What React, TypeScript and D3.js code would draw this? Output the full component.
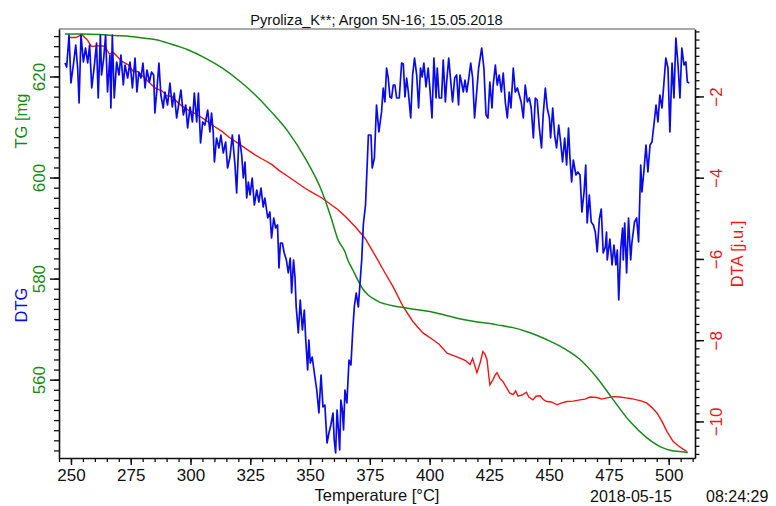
import * as d3 from 'd3';
import { useEffect, useRef } from 'react';

// TG curve (green), temperature in °C and mass in mg
const tgTemp = [247.5, 255, 262, 268.4, 275, 280, 285.1, 292, 298.9, 306, 313.2, 320, 327.0, 334, 340.8, 348, 355.0, 358.5, 361.7, 364.6, 365.8, 368, 370.0, 372, 374.2, 377, 379.2, 381.3, 385, 388.9, 394, 400.1, 407, 414.0, 420, 425.2, 430, 434.9, 442.0, 449.1, 455.8, 462.9, 470.0, 476.7, 483.8, 490.9, 497.6, 501, 504.7, 508.0];
const tgMass = [628.4, 628.4, 628.3, 628.1, 627.9, 627.6, 627.3, 626.4, 625.3, 623.7, 621.7, 619.3, 616.4, 612.9, 609.1, 603.8, 597.2, 592.5, 587.7, 585.3, 583.7, 581.6, 579.7, 578.0, 576.8, 575.9, 575.3, 575.0, 574.6, 574.3, 573.9, 573.5, 572.7, 571.9, 571.4, 571.1, 570.7, 570.3, 569.3, 567.9, 566.3, 564.0, 560.4, 556.1, 551.7, 548.5, 546.5, 546.0, 545.8, 545.6];

// DTA curve (red), j.u.
const dtaTemp = [248.7, 252, 254.6, 257, 258.5, 262, 264.2, 266, 268, 271.3, 274, 276, 278, 281, 285.1, 288, 290, 292.2, 295, 298.9, 302, 306, 310, 313.2, 316, 319.8, 323, 327, 330, 334.1, 337, 340.8, 344, 347.9, 351, 355, 358, 361.7, 365, 368.8, 373, 377.1, 381.3, 384.7, 388.9, 393, 397.2, 401.4, 404, 407.3, 410, 412.7, 415, 416.9, 418, 419, 419.8, 421.1, 422.3, 423.2, 424, 425.2, 426.5, 427.5, 428.2, 429.5, 430.7, 432, 433.5, 434.9, 436, 437, 439, 440.5, 441.5, 443.2, 444.5, 446.2, 447.5, 449.1, 451, 453.3, 455, 457.4, 460, 462.9, 465, 467.1, 470, 472, 474.2, 477, 479.6, 482, 484.5, 486.7, 488.8, 490.9, 493, 495.1, 497.2, 499.3, 501.8, 504, 506, 507.7];
const dtaVal = [-0.55, -0.55, -0.48, -0.62, -0.77, -0.75, -0.77, -0.95, -0.93, -1.14, -1.22, -1.38, -1.39, -1.55, -1.79, -1.86, -1.98, -2.0, -2.17, -2.33, -2.42, -2.57, -2.74, -2.86, -3.0, -3.15, -3.28, -3.44, -3.54, -3.68, -3.82, -3.97, -4.1, -4.26, -4.37, -4.5, -4.63, -4.79, -4.97, -5.2, -5.49, -5.9, -6.34, -6.68, -7.17, -7.54, -7.82, -7.99, -8.1, -8.32, -8.38, -8.44, -8.5, -8.6, -8.45, -8.65, -8.8, -8.56, -8.28, -8.35, -8.48, -9.1, -8.97, -8.85, -8.8, -8.95, -9.02, -9.15, -9.3, -9.34, -9.25, -9.38, -9.34, -9.28, -9.4, -9.47, -9.38, -9.37, -9.46, -9.51, -9.52, -9.59, -9.55, -9.51, -9.5, -9.47, -9.45, -9.4, -9.41, -9.45, -9.42, -9.39, -9.4, -9.42, -9.44, -9.47, -9.5, -9.55, -9.66, -9.79, -10.0, -10.25, -10.49, -10.6, -10.68, -10.74];

// DTG curve (blue), no axis of its own
const dtgTemp = [247.5, 248.2, 249.2, 250.0, 251.0, 252.0, 252.8, 253.4, 254.2, 255.2, 256.1, 257.0, 257.8, 258.7, 259.8, 260.7, 261.4, 262.3, 262.8, 263.7, 264.5, 265.3, 266.3, 266.7, 267.3, 268.1, 269.1, 270.1, 270.9, 271.9, 272.6, 273.7, 274.7, 275.7, 276.8, 277.6, 278.4, 279.3, 280.1, 281.0, 281.8, 282.8, 283.7, 284.6, 285.1, 286.0, 286.8, 287.6, 288.6, 289.3, 290.4, 291.4, 292.4, 293.2, 294.2, 295.2, 296.0, 297.0, 298.0, 298.8, 299.8, 300.8, 301.6, 302.6, 303.3, 304.2, 305.1, 306.0, 307.2, 308.1, 308.8, 309.5, 310.0, 310.9, 311.9, 312.7, 313.7, 314.7, 315.5, 316.5, 317.5, 318.6, 319.3, 320.3, 321.4, 322.1, 322.8, 323.5, 324.2, 324.9, 325.8, 326.7, 327.7, 328.6, 329.5, 330.4, 331.1, 332.3, 333.2, 333.9, 334.8, 335.6, 336.4, 337.0, 337.6, 338.4, 339.2, 340.1, 340.9, 341.7, 342.3, 343.1, 343.7, 344.2, 345.1, 345.9, 346.8, 347.6, 348.2, 349.0, 349.5, 350.1, 350.9, 351.8, 352.8, 353.7, 354.6, 355.4, 356.2, 357.1, 357.9, 358.7, 359.6, 360.1, 360.7, 361.3, 361.8, 362.4, 362.9, 363.5, 364.0, 364.6, 365.4, 366.3, 367.1, 367.8, 368.5, 369.3, 370.2, 370.9, 371.6, 372.3, 373.2, 374.4, 375.5, 376.0, 376.9, 377.8, 378.8, 379.9, 380.6, 381.3, 382.0, 382.7, 383.4, 384.1, 384.8, 385.5, 386.2, 387.3, 388.3, 389.0, 389.7, 390.4, 391.1, 392.1, 392.9, 393.7, 394.6, 395.4, 396.2, 396.9, 397.6, 398.5, 399.4, 400.1, 401.0, 401.8, 402.7, 403.2, 404.0, 405.0, 405.7, 406.6, 407.1, 408.0, 408.8, 409.6, 410.5, 411.3, 412.1, 412.7, 413.4, 414.1, 414.8, 415.5, 416.3, 417.2, 418.0, 418.8, 419.7, 420.5, 421.8, 422.7, 423.6, 424.4, 425.2, 426.1, 426.6, 427.5, 428.3, 429.1, 430.0, 430.8, 431.7, 432.5, 433.3, 434.0, 435.0, 435.8, 436.7, 437.5, 438.3, 439.2, 440.0, 440.9, 441.7, 442.5, 443.4, 444.2, 445.0, 445.9, 446.8, 447.5, 448.4, 449.2, 450.1, 450.6, 451.5, 452.3, 453.1, 454.0, 454.8, 455.6, 456.5, 457.3, 458.1, 458.7, 459.4, 460.1, 461.2, 462.0, 462.9, 463.7, 464.6, 465.3, 465.9, 466.8, 467.6, 468.5, 469.3, 470.1, 471.0, 471.8, 472.6, 473.5, 474.0, 474.3, 475.4, 476.3, 477.1, 477.9, 478.5, 479.1, 479.9, 480.7, 481.0, 481.6, 482.4, 483.2, 484.1, 484.6, 485.7, 486.6, 487.4, 488.3, 488.8, 489.6, 490.5, 491.3, 492.2, 493.0, 493.8, 494.7, 495.5, 496.3, 497.2, 498.0, 498.8, 499.7, 500.5, 501.4, 502.2, 503.0, 503.9, 504.7, 505.5, 506.4, 507.2, 507.8, 508.6];
const dtgVal = [-3.4, -3.8, -0.6, -5.4, -3.6, -1.6, -3.9, -7.4, -0.6, -3.3, -1.9, -3.4, -1.6, -5.9, -3.6, -1.4, -6.9, -0.6, -4.6, -2.9, -0.6, -6.3, -2.6, -7.9, -0.6, -6.9, -3.3, -4.6, -2.6, -5.6, -3.6, -4.9, -3.3, -5.9, -2.9, -6.3, -4.3, -4.9, -3.4, -5.9, -4.1, -5.3, -4.3, -4.6, -8.4, -5.9, -3.4, -6.6, -7.9, -6.3, -7.6, -5.4, -7.8, -6.4, -8.9, -7.3, -6.1, -8.6, -7.6, -9.9, -7.8, -9.3, -6.4, -9.3, -6.4, -11.4, -9.3, -9.6, -8.1, -10.3, -8.4, -10.3, -13.3, -10.9, -11.9, -10.6, -12.4, -11.3, -13.9, -12.8, -10.6, -13.6, -16.4, -10.6, -12.6, -14.9, -13.3, -16.9, -15.3, -16.6, -14.9, -17.6, -16.1, -17.3, -15.9, -17.8, -16.9, -18.9, -18.3, -20.9, -18.9, -19.9, -19.6, -23.9, -21.4, -21.4, -22.4, -23.1, -24.4, -22.9, -26.4, -23.1, -24.8, -27.8, -30.4, -27.1, -30.1, -28.1, -31.1, -34.1, -31.1, -33.4, -32.8, -34.4, -36.1, -38.4, -34.6, -37.8, -37.6, -41.4, -40.4, -39.6, -38.4, -41.1, -42.4, -38.1, -39.8, -42.1, -37.1, -38.1, -40.1, -36.1, -37.4, -33.1, -33.6, -30.4, -27.8, -26.4, -27.8, -25.4, -23.1, -19.5, -17.6, -10.6, -10.6, -13.9, -12.9, -7.6, -10.3, -8.3, -5.9, -7.3, -3.9, -4.9, -6.8, -6.9, -5.6, -5.6, -6.9, -6.9, -3.4, -3.5, -6.8, -4.9, -6.3, -8.9, -4.6, -2.9, -4.6, -7.9, -3.9, -4.8, -3.4, -5.8, -3.9, -5.9, -8.9, -2.9, -6.9, -3.9, -6.9, -6.9, -3.1, -7.3, -5.4, -2.9, -5.1, -7.3, -4.9, -4.6, -7.6, -4.6, -5.4, -6.3, -5.1, -6.3, -5.1, -3.4, -4.9, -8.9, -6.3, -3.9, -1.9, -3.9, -8.6, -8.9, -5.3, -7.9, -5.6, -3.6, -5.6, -4.6, -6.3, -4.4, -7.4, -8.9, -6.3, -7.9, -3.9, -6.3, -5.9, -6.6, -7.3, -8.9, -5.6, -7.3, -6.9, -7.9, -10.9, -6.9, -7.1, -9.9, -11.9, -8.6, -5.9, -7.9, -8.9, -10.9, -7.9, -10.6, -11.9, -9.6, -11.3, -13.3, -10.9, -13.6, -9.9, -12.9, -15.3, -13.1, -14.6, -14.3, -14.6, -18.3, -16.3, -13.6, -19.4, -16.6, -19.3, -19.6, -20.3, -22.3, -19.0, -18.0, -22.4, -21.8, -20.3, -23.1, -21.0, -23.6, -21.6, -23.6, -22.1, -27.1, -22.1, -19.9, -23.1, -19.4, -24.4, -18.9, -23.1, -21.4, -19.3, -18.9, -21.3, -13.6, -16.3, -14.3, -11.6, -14.3, -11.6, -11.3, -9.6, -7.6, -9.3, -6.6, -7.9, -5.4, -2.9, -3.9, -10.3, -3.4, -6.9, -0.9, -3.6, -6.9, -1.9, -3.6, -3.3, -5.3, -5.4];

const tgTicks = [560, 580, 600, 620];
const dtaTicks = [-10, -8, -6, -4, -2];
const tempTicks = [250, 275, 300, 325, 350, 375, 400, 425, 450, 475, 500];

const title = 'Pyroliza_K**; Argon 5N-16; 15.05.2018';

const GREEN = '#168a16';
const RED = '#f01414';
const BLUE = '#0a0af0';
const FONT = "'Liberation Sans', Arial, sans-serif";
const NARROW = "'Liberation Sans Narrow', 'Liberation Sans', Arial, sans-serif";

const App = () => {
    const ref = useRef<SVGSVGElement>(null);

    useEffect(() => {
        drawChart();
    }, []);

    const drawChart = () => {
        const left = 59, right = 695, top = 29, bottom = 458;

        const svg = d3.select(ref.current);
        svg.selectAll('*').remove();

        const x = d3.scaleLinear().domain([245, 511]).range([left, right]);
        const yTG = d3.scaleLinear().domain([544.5, 629.4]).range([bottom, top]);
        const yDTA = d3.scaleLinear().domain([-10.9, -0.34]).range([bottom, top]);
        const yDTG = d3.scaleLinear().domain([-42.9, 0]).range([bottom, top]);

        // title + thin top border
        svg.append('text')
            .attr('x', 376.5).attr('y', 25)
            .attr('text-anchor', 'middle')
            .style('font-family', FONT).style('font-size', '14.6px')
            .attr('fill', '#111')
            .text(title);

        svg.append('line')
            .attr('x1', left).attr('x2', right).attr('y1', top).attr('y2', top)
            .attr('stroke', '#555').attr('stroke-width', 1);

        // bottom axis: minor ticks then major ticks with labels
        svg.append('g')
            .attr('transform', `translate(0,${bottom})`)
            .call(d3.axisBottom(x).tickValues(d3.range(245, 511, 5)).tickSize(4).tickFormat(() => ''))
            .call(g => g.select('.domain').remove())
            .selectAll('line').attr('stroke', '#111').attr('stroke-width', 1.3);

        const xAxis = svg.append('g')
            .attr('transform', `translate(0,${bottom})`)
            .call(d3.axisBottom(x).tickValues(tempTicks).tickSize(7).tickSizeOuter(0));
        xAxis.select('.domain').attr('stroke', '#111').attr('stroke-width', 1.6);
        xAxis.selectAll('line').attr('stroke', '#111').attr('stroke-width', 1.5);
        xAxis.selectAll('text')
            .attr('y', 23).attr('dy', 0)
            .attr('fill', '#111')
            .style('font-family', NARROW).style('font-size', '17px');

        // left TG axis
        svg.append('g')
            .attr('transform', `translate(${left},0)`)
            .call(d3.axisLeft(yTG).tickValues(d3.range(546, 630, 2)).tickSize(5).tickFormat(() => ''))
            .call(g => g.select('.domain').remove())
            .selectAll('line').attr('stroke', '#111').attr('stroke-width', 1.3);

        const yLeft = svg.append('g')
            .attr('transform', `translate(${left},0)`)
            .call(d3.axisLeft(yTG).tickValues(tgTicks).tickSize(9).tickSizeOuter(0));
        yLeft.select('.domain').attr('stroke', '#111').attr('stroke-width', 1.6);
        yLeft.selectAll('line').attr('stroke', '#111').attr('stroke-width', 1.5);
        yLeft.selectAll('text')
            .attr('x', 0).attr('y', -14).attr('dy', 0)
            .attr('transform', 'rotate(-90)')
            .attr('text-anchor', 'middle')
            .attr('fill', GREEN)
            .style('font-family', NARROW).style('font-size', '17px');

        // right DTA axis
        svg.append('g')
            .attr('transform', `translate(${right},0)`)
            .call(d3.axisRight(yDTA).tickValues(d3.range(-10.8, -0.35, 0.2)).tickSize(4.5).tickFormat(() => ''))
            .call(g => g.select('.domain').remove())
            .selectAll('line').attr('stroke', '#111').attr('stroke-width', 1.3);

        const yRight = svg.append('g')
            .attr('transform', `translate(${right},0)`)
            .call(d3.axisRight(yDTA).tickValues(dtaTicks).tickSize(9).tickSizeOuter(0));
        yRight.select('.domain').attr('stroke', '#111').attr('stroke-width', 1.6);
        yRight.selectAll('line').attr('stroke', '#111').attr('stroke-width', 1.5);
        yRight.selectAll('text')
            .attr('x', 0).attr('y', 27).attr('dy', 0)
            .attr('transform', 'rotate(-90)')
            .attr('text-anchor', 'middle')
            .attr('fill', RED)
            .style('font-family', NARROW).style('font-size', '17px');

        // axis titles
        const rotLabel = (tx: number, ty: number, txt: string, color: string, size: number) => {
            svg.append('text')
                .attr('transform', `translate(${tx},${ty}) rotate(-90)`)
                .attr('text-anchor', 'middle')
                .attr('fill', color)
                .style('font-family', FONT).style('font-size', `${size}px`)
                .text(txt);
        };
        rotLabel(27, 121, 'TG [mg', GREEN, 16.5);
        rotLabel(27, 305, 'DTG', BLUE, 16.5);
        rotLabel(743, 254, 'DTA [j.u.]', RED, 16.5);

        svg.append('text')
            .attr('x', 377).attr('y', 501)
            .attr('text-anchor', 'middle')
            .attr('fill', '#111')
            .style('font-family', FONT).style('font-size', '16.5px')
            .text('Temperature [°C]');

        svg.append('text')
            .attr('x', 590).attr('y', 502)
            .attr('fill', '#111')
            .style('font-family', FONT).style('font-size', '16px')
            .text('2018-05-15');
        svg.append('text')
            .attr('x', 706).attr('y', 502)
            .attr('fill', '#111')
            .style('font-family', FONT).style('font-size', '16px')
            .text('08:24:29');

        // curves
        const plot = svg.append('g');

        const dtaLine = d3.line<number>()
            .x((d, i) => x(dtaTemp[i]))
            .y(d => yDTA(d));
        plot.append('path')
            .datum(dtaVal)
            .attr('d', dtaLine)
            .attr('fill', 'none')
            .attr('stroke', RED)
            .attr('stroke-width', 1.4);

        const tgLine = d3.line<number>()
            .x((d, i) => x(tgTemp[i]))
            .y(d => yTG(d))
            .curve(d3.curveMonotoneX);
        plot.append('path')
            .datum(tgMass)
            .attr('d', tgLine)
            .attr('fill', 'none')
            .attr('stroke', GREEN)
            .attr('stroke-width', 1.5);

        const dtgLine = d3.line<number>()
            .x((d, i) => x(dtgTemp[i]))
            .y(d => yDTG(d));
        plot.append('path')
            .datum(dtgVal)
            .attr('d', dtgLine)
            .attr('fill', 'none')
            .attr('stroke', BLUE)
            .attr('stroke-width', 1.7)
            .attr('stroke-linejoin', 'round');
    };

    return (
        <svg ref={ref} width={776} height={506}
            style={{ position: 'absolute', left: 0, top: 0, background: 'white' }} />
    );
};

export default App;
